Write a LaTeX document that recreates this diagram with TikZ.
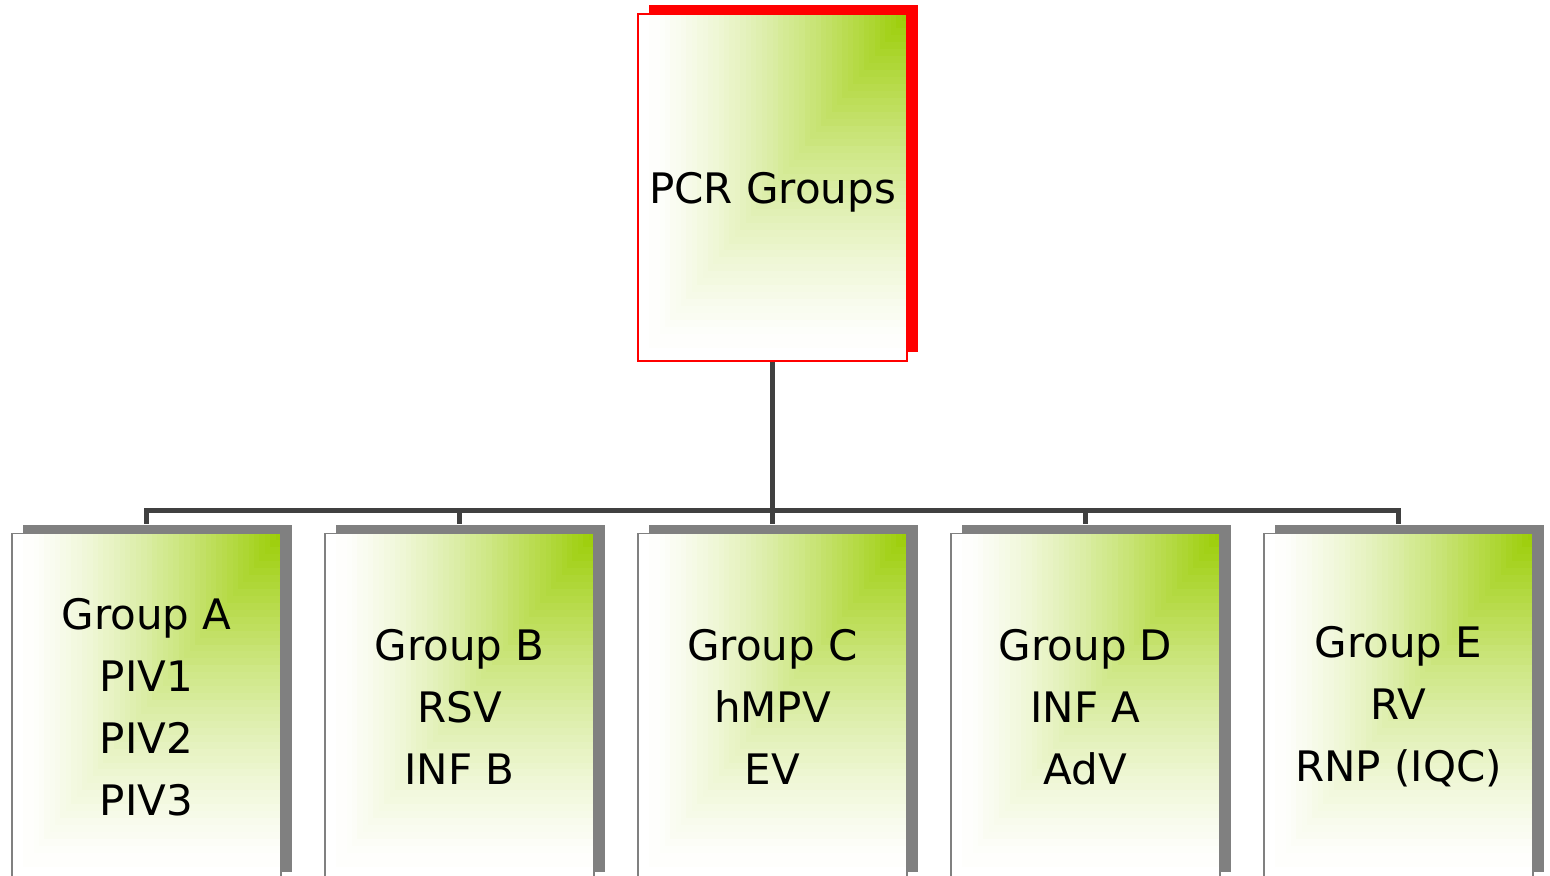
\documentclass[tikz,border=0pt]{standalone}
\usepackage{fontspec}
\setmainfont{DejaVu Sans}
\usetikzlibrary{shadows}

\definecolor{leafgreen}{RGB}{153,204,0}
\definecolor{linkgray}{RGB}{64,64,64}

\tikzset{
  % green in the top right corner, fading to white towards the left and bottom
  cardbox/.style={rectangle, fill=white, inner sep=0pt, minimum width=134.5pt, minimum height=173.5pt,
    align=center, font=\fontsize{21}{31}\selectfont,
    path picture={
      \foreach \k in {50,49,...,1}{
        \pgfmathtruncatemacro\pct{100*(1-\k/50)^1.4}
        \fill[leafgreen!\pct!white] (path picture bounding box.north east)
          rectangle ++(-\k*2.69pt,-\k*3.47pt);
      }}},
  rootbox/.style={cardbox, draw=red, line width=1pt, text depth=0pt,
    general shadow={fill=red, shadow xshift=5.5pt, shadow yshift=4.5pt}},
  groupbox/.style={cardbox, draw=gray, line width=0.75pt,
    general shadow={fill=gray, shadow xshift=5.5pt, shadow yshift=4.5pt}},
  link/.style={draw=linkgray, line width=2.5pt}
}

\begin{document}
\begin{tikzpicture}[x=0.5pt,y=-0.5pt]
\clip (0,0) rectangle (1550,876);

\node[rootbox] (pcr) at (772.5,188) {PCR Groups};

\node[groupbox] (a) at (146.5,707) {Group A\\PIV1\\PIV2\\PIV3};
\node[groupbox] (b) at (459.5,707) {Group B\\RSV\\INF B};
\node[groupbox] (c) at (772.5,707) {Group C\\hMPV\\EV};
\node[groupbox] (d) at (1085.5,707) {Group D\\INF A\\AdV};
\node[groupbox] (e) at (1398.5,707) {Group E\\RV\\RNP (IQC)};

% bus line between the root and the groups
\coordinate (bus) at (772.5,510);
\path[link] (pcr.south) -- (bus);
\foreach \g in {a,b,c,d,e}
  \path[link] (bus) -| ([yshift=4.5pt]\g.north);
\end{tikzpicture}
\end{document}
